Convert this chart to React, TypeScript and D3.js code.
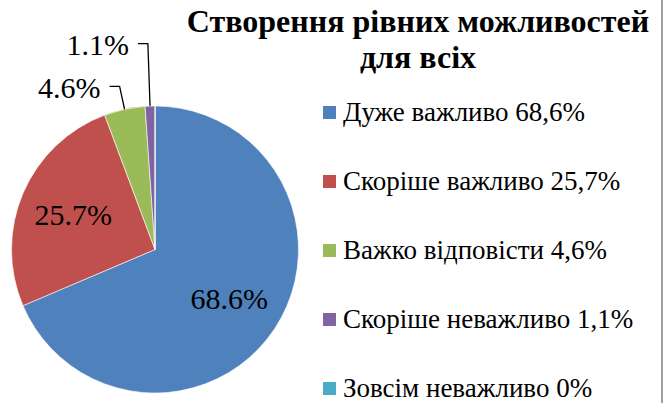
import React from 'react';
import * as d3 from 'd3';

const categories = ['Дуже важливо', 'Скоріше важливо', 'Важко відповісти', 'Скоріше неважливо', 'Зовсім неважливо'];
const values = [68.6, 25.7, 4.6, 1.1, 0];
const legendLabels = ['Дуже важливо 68,6%', 'Скоріше важливо 25,7%', 'Важко відповісти 4,6%', 'Скоріше неважливо 1,1%', 'Зовсім неважливо 0%'];
const dataLabels = ['68.6%', '25.7%', '4.6%', '1.1%', ''];
const colors = ['#4F81BD', '#C0504D', '#9BBB59', '#8064A2', '#4BACC6'];
const titleLines = ['Створення рівних можливостей', 'для всіх'];

const FONT = "'Liberation Serif'";

const width = 664;
const height = 403;
const cx = 155;
const cy = 249.5;
const radius = 143.5;

const App = () => {
    const pie = d3.pie<number>().sort(null).value(d => d);
    const arcs = pie(values);
    const arc = d3.arc<d3.PieArcDatum<number>>().innerRadius(0).outerRadius(radius);
    const labelArc = d3.arc<d3.PieArcDatum<number>>().innerRadius(0).outerRadius(radius * 1.24);

    // outside labels: slice index and elbow radius of the leader line
    const outside = [{ i: 2, r: 167 }, { i: 3, r: 206 }];

    const ly = d3.scaleBand<string>().domain(categories).range([78, 423]);

    return (
        <div style={{ position: 'absolute', left: 0, top: 0 }}>
            <svg width={width} height={height} style={{ fontFamily: FONT, display: 'block' }}>
                <rect width={width} height={height} fill="#fff" />
                <line x1={662} x2={662} y1={0} y2={height} stroke="#a0a0a0" strokeWidth={2} />

                <g transform={`translate(${cx},${cy})`}>
                    {arcs.map((d, i) => (
                        <path key={i} d={arc(d) || ''} fill={colors[i]} stroke="#fff" strokeWidth={0.6} />
                    ))}
                    {[0, 1].map(i => {
                        const [x, y] = labelArc.centroid(arcs[i]);
                        return (
                            <text key={i} x={x} y={y} textAnchor="middle" dominantBaseline="central"
                                fontSize={30} style={{ fontFamily: FONT }}>{dataLabels[i]}</text>
                        );
                    })}
                    {outside.map(({ i, r }) => {
                        const a = (arcs[i].startAngle + arcs[i].endAngle) / 2;
                        const ex = Math.sin(a) * radius, ey = -Math.cos(a) * radius;
                        const kx = Math.sin(a) * r, ky = -Math.cos(a) * r;
                        const hx = kx - 10;
                        return (
                            <g key={i}>
                                <path d={`M${ex},${ey}L${kx},${ky}L${hx},${ky}`} fill="none" stroke="#000" strokeWidth={1.3} />
                                <text x={hx - 9} y={ky + 1} textAnchor="end" dominantBaseline="central"
                                    fontSize={30} style={{ fontFamily: FONT }}>{dataLabels[i]}</text>
                            </g>
                        );
                    })}
                </g>

                {titleLines.map((t, i) => (
                    <text key={i} x={418} y={32 + i * 36} textAnchor="middle" fontWeight="bold"
                        fontSize={32} style={{ fontFamily: FONT }}>{t}</text>
                ))}

                {categories.map((c, i) => (
                    <g key={c} transform={`translate(323,${ly(c)! + ly.bandwidth() / 2})`}>
                        <rect x={0} y={-6.5} width={13} height={13} fill={colors[i]} />
                        <text x={20} y={8} fontSize={27} style={{ fontFamily: FONT }}>{legendLabels[i]}</text>
                    </g>
                ))}
            </svg>
        </div>
    );
};

export default App;
